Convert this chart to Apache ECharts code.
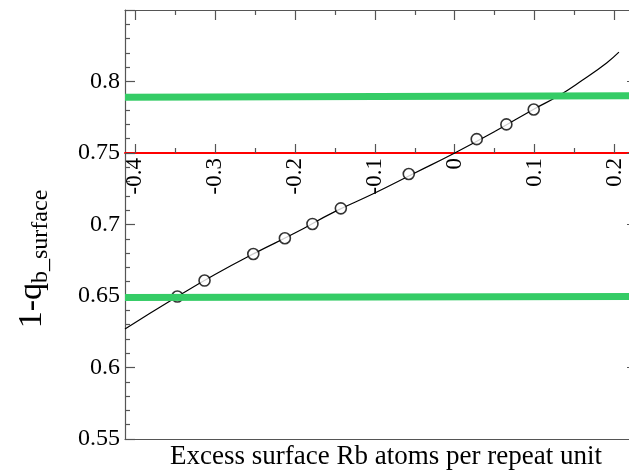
<!DOCTYPE html>
<html><head><meta charset="utf-8">
<script src="https://cdn.jsdelivr.net/npm/echarts@6/dist/echarts.min.js"></script>
<style>html,body{margin:0;padding:0;background:#fff}#c{width:629px;height:473px}</style>
</head><body><div id="c"></div>
<script>
// ---- data ----
const xMin = -0.4125, xMax = 0.228;
const yMin = 0.55, yMax = 0.85;
const xTicks = [-0.4, -0.3, -0.2, -0.1, 0, 0.1, 0.2];
const xMinorTicks = [-0.35, -0.25, -0.15, -0.05, 0.05, 0.15];
const yTickLabels = ['0.55', '0.6', '0.65', '0.7', '0.75', '0.8'];
const circleX = [-0.347, -0.313, -0.252, -0.2125, -0.178, -0.1425, -0.0575, 0.0275, 0.0646, 0.0988];
const circleY = [0.6496, 0.6608, 0.6794, 0.6904, 0.7004, 0.7113, 0.7353, 0.7597, 0.7700, 0.7804];
const curveX = [-0.4125, -0.35, -0.3, -0.25, -0.2, -0.15, -0.1, -0.05, 0, 0.05, 0.1, 0.13, 0.16, 0.19, 0.2054];
const curveY = [0.627, 0.6486, 0.665, 0.680, 0.694, 0.709, 0.722, 0.736, 0.750, 0.765, 0.781, 0.790, 0.801, 0.813, 0.8205];
const greenUpper = [0.789, 0.790];
const greenLower = [0.649, 0.6497];
const redLevel = 0.75;
const xName = 'Excess surface Rb atoms per repeat unit';

// ---- chart ----
const F = 'Liberation Serif';
const AX = '#555';
const GL = 125, GW = 512, GT = 10, GH = 429;
const redH = GH * (yMax - redLevel) / (yMax - yMin);
const chart = echarts.init(document.getElementById('c'), null, {renderer: 'canvas'});
const zip = (a, b) => a.map((v, i) => [v, b[i]]);
const noLbl = {show: false};
const noSplit = {show: false};
const option = {
  animation: false,
  grid: [
    {left: GL, top: GT, width: GW, height: GH, containLabel: false, outerBoundsMode: 'none'},
    {left: GL, top: GT, width: GW, height: redH, containLabel: false, outerBoundsMode: 'none'}
  ],
  xAxis: [
    {gridIndex: 0, type: 'value', position: 'bottom', min: xMin, max: xMax,
      axisLine: {lineStyle: {color: AX, width: 1.2}}, axisTick: {show: false}, axisLabel: noLbl, splitLine: noSplit,
      name: xName, nameLocation: 'middle', nameGap: 4,
      nameTextStyle: {fontFamily: F, fontSize: 27, color: '#000', padding: [0, 0, 0, 10]}},
    {gridIndex: 0, type: 'value', position: 'top', min: xMin, max: xMax,
      axisLine: {lineStyle: {color: AX, width: 1.2}},
      axisTick: {inside: true, length: 10, customValues: xTicks, lineStyle: {color: AX, width: 1.2}},
      axisLabel: noLbl, splitLine: noSplit},
    {gridIndex: 0, type: 'value', position: 'top', min: xMin, max: xMax,
      axisLine: {show: false},
      axisTick: {inside: true, length: 5, customValues: xMinorTicks, lineStyle: {color: AX, width: 1.2}},
      axisLabel: noLbl, splitLine: noSplit},
    {gridIndex: 1, type: 'value', position: 'bottom', min: xMin, max: xMax,
      axisLine: {onZero: false, lineStyle: {color: '#ff0000', width: 2}},
      axisTick: {inside: true, length: 9, customValues: xTicks, lineStyle: {color: AX, width: 1.2}},
      axisLabel: {customValues: xTicks, rotate: 90, margin: 5, fontFamily: F, fontSize: 23, color: '#000',
        formatter: v => String(parseFloat(v.toFixed(2)))},
      splitLine: noSplit},
    {gridIndex: 1, type: 'value', position: 'bottom', min: xMin, max: xMax,
      axisLine: {show: false},
      axisTick: {inside: true, length: 5, customValues: xMinorTicks, lineStyle: {color: AX, width: 1.2}},
      axisLabel: noLbl, splitLine: noSplit}
  ],
  yAxis: [
    {gridIndex: 0, type: 'value', position: 'left', min: yMin, max: yMax, interval: 0.05,
      axisLine: {show: true, onZero: false, lineStyle: {color: AX, width: 1.2}},
      axisTick: {inside: true, length: 10, lineStyle: {color: AX, width: 1.2}},
      minorTick: {show: true, splitNumber: 5, length: 5, lineStyle: {color: AX, width: 1.2}},
      axisLabel: {showMaxLabel: false, fontFamily: F, fontSize: 24, color: '#000', margin: 5,
        formatter: v => yTickLabels.find(t => Math.abs(parseFloat(t) - v) < 1e-6) || ''},
      splitLine: noSplit},
    {gridIndex: 0, type: 'value', position: 'right', min: yMin, max: yMax, interval: 0.05,
      axisLine: {show: true, onZero: false, lineStyle: {color: AX, width: 1.2}},
      axisTick: {inside: true, length: 10, lineStyle: {color: AX, width: 1.2}},
      axisLabel: noLbl, splitLine: noSplit},
    {gridIndex: 1, type: 'value', show: false, min: 0, max: 1}
  ],
  graphic: [{
    type: 'text', x: 32, y: 259, rotation: Math.PI / 2,
    style: {
      text: '{m|1-q}{s|b_surface}',
      align: 'center', verticalAlign: 'middle',
      rich: {
        m: {fontFamily: F, fontSize: 34, fill: '#000'},
        s: {fontFamily: F, fontSize: 24, fill: '#000', padding: [18, 0, 0, 0]}
      }
    }
  }],
  series: [
    {type: 'line', xAxisIndex: 0, yAxisIndex: 0, data: zip(curveX, curveY), smooth: true,
      symbol: 'none', lineStyle: {color: '#000', width: 1.2}, z: 3},
    {type: 'scatter', xAxisIndex: 0, yAxisIndex: 0, data: zip(circleX, circleY), symbol: 'circle',
      symbolSize: 11, itemStyle: {color: '#fff', borderColor: '#000', borderWidth: 1.6}, z: 4},
    {type: 'line', xAxisIndex: 0, yAxisIndex: 0, data: [[xMin, greenUpper[0]], [xMax, greenUpper[1]]],
      symbol: 'none', lineStyle: {color: '#35cc66', width: 7}, z: 5},
    {type: 'line', xAxisIndex: 0, yAxisIndex: 0, data: [[xMin, greenLower[0]], [xMax, greenLower[1]]],
      symbol: 'none', lineStyle: {color: '#35cc66', width: 7}, z: 5}
  ]
};
chart.setOption(option);
</script>
</body></html>
